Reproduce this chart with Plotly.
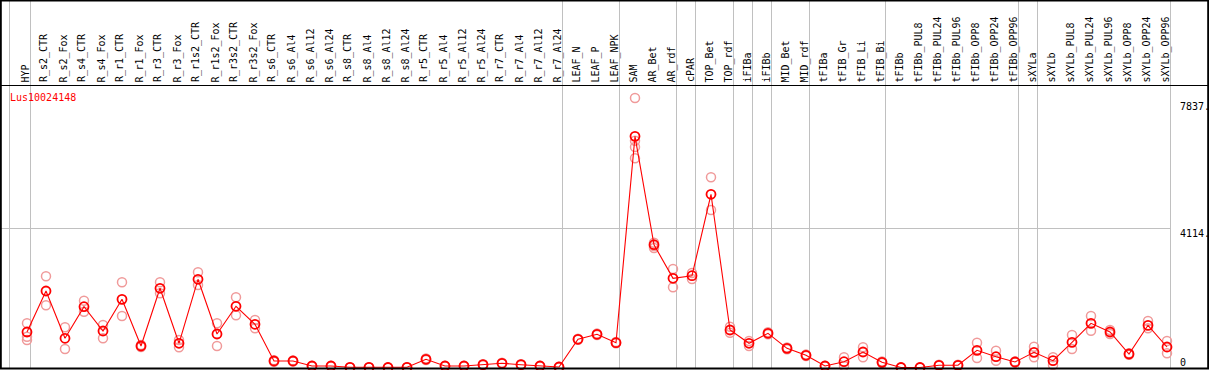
import plotly.graph_objects as go

W, H = 1209, 370

gene = "Lus10024148"

samples = ["HYP", "R_s2_CTR", "R_s2_Fox", "R_s4_CTR", "R_s4_Fox", "R_r1_CTR", "R_r1_Fox",
           "R_r3_CTR", "R_r3_Fox", "R_r1s2_CTR", "R_r1s2_Fox", "R_r3s2_CTR", "R_r3s2_Fox",
           "R_s6_CTR", "R_s6_Al4", "R_s6_Al12", "R_s6_Al24", "R_s8_CTR", "R_s8_Al4", "R_s8_Al12",
           "R_s8_Al24", "R_r5_CTR", "R_r5_Al4", "R_r5_Al12", "R_r5_Al24", "R_r7_CTR", "R_r7_Al4",
           "R_r7_Al12", "R_r7_Al24", "LEAF_N", "LEAF_P", "LEAF_NPK", "SAM", "AR_Bet", "AR_rdf",
           "cPAR", "TOP_Bet", "TOP_rdf", "iFIBa", "iFIBb", "MID_Bet", "MID_rdf", "tFIBa",
           "tFIB_Gr", "tFIB_Li", "tFIB_Bi", "tFIBb", "tFIBb_PUL8", "tFIBb_PUL24", "tFIBb_PUL96",
           "tFIBb_OPP8", "tFIBb_OPP24", "tFIBb_OPP96", "sXYLa", "sXYLb", "sXYLb_PUL8",
           "sXYLb_PUL24", "sXYLb_PUL96", "sXYLb_OPP8", "sXYLb_OPP24", "sXYLb_OPP96"]

mean_values = [1047, 2256, 861, 1793, 1076, 2011, 634, 2336, 714, 2601, 988, 1805, 1274,
               192, 192, 44, 44, 6, 6, 0, 6, 242, 44, 44, 83, 124, 83, 44, 15,
               832, 979, 731, 6818, 3621, 2631, 2707, 5108, 1106, 714, 1009, 566, 360, 44,
               171, 457, 153, 0, 0, 65, 65, 507, 318, 162, 448, 201, 743,
               1303, 1047, 398, 1244, 605]

replicates = [
    [1303, 908, 811], [2690, 1834], [1185, 546], [1970, 1646], [1253, 861], [2513, 1519],
    [664, 605], [2513, 2188], [811, 596], [2807, 2433], [1303, 634], [2070, 1539], [1401, 1156],
    [215, 170], [210, 175], [55, 35], [55, 35], [10, 2], [10, 2], [0, 0], [10, 2],
    [265, 220], [55, 35], [55, 35], [95, 70], [140, 110], [95, 70], [55, 35], [20, 10],
    [850, 815], [1000, 960], [750, 712], [7948, 6688, 6503, 6169], [3680, 3583, 3524],
    [2905, 2365], [2787, 2610], [5609, 4645], [1203, 1026], [781, 634], [1040, 980],
    [590, 540], [380, 340], [55, 35], [301, 44], [596, 301], [175, 130], [0, 0], [0, 0],
    [80, 50], [80, 50], [731, 280], [495, 201], [180, 145], [613, 301], [301, 74],
    [958, 546], [1519, 1085], [1106, 988], [420, 376], [1371, 1156], [781, 419]]

tick_values = [0, 4114, 7837]
tick_labels = ["0", "4114.", "7837."]

group_breaks = [-0.9, 0.2, 28.2, 31.2, 34.2, 35.2, 37.2, 38.2, 39.2, 41.2, 45.2, 52.2, 53.2, 60.2]

# ---- pixel geometry helpers ----
X0_PX, DX_PX = 27.0, 19.0          # pixel of first category, spacing
Y0_PX, K = 367.5, 0.033909          # pixel of value 0, pixels per unit
xr = [(0 - X0_PX) / DX_PX, (W - X0_PX) / DX_PX]
yr = [(Y0_PX - H) / K, Y0_PX / K]


def px(x):
    return x / W


def py(y):
    return 1 - y / H


def snap_x(b):
    # place a 1px line on a pixel centre
    p = round(X0_PX + DX_PX * b) - 0.5
    return (p - X0_PX) / DX_PX


idx = list(range(len(samples)))

fig = go.Figure()

rx, ry = [], []
for i, reps in enumerate(replicates):
    for v in reps:
        rx.append(i)
        ry.append(v)

fig.add_trace(go.Scatter(x=rx, y=ry, mode="markers",
                         marker=dict(symbol="circle-open", size=9, color="#f09a9a",
                                     line=dict(width=1.5, color="#f09a9a")),
                         hoverinfo="skip", showlegend=False))
fig.add_trace(go.Scatter(x=idx, y=mean_values, mode="lines+markers",
                         line=dict(color="#ff0000", width=1.1),
                         marker=dict(symbol="circle-open", size=9, color="#ff0000",
                                     line=dict(width=1.8, color="#ff0000")),
                         text=samples, showlegend=False))

shapes = []
# group separators (full height)
for b in group_breaks:
    xb = snap_x(b)
    shapes.append(dict(type="line", xref="x", yref="paper", x0=xb, x1=xb, y0=py(368), y1=1,
                       line=dict(color="#c0c0c0", width=1), layer="below"))
# horizontal grid at mid tick
shapes.append(dict(type="line", xref="paper", yref="paper", x0=0, x1=px(1171),
                   y0=py(round(Y0_PX - K * tick_values[1]) + 0.5),
                   y1=py(round(Y0_PX - K * tick_values[1]) + 0.5),
                   line=dict(color="#c0c0c0", width=1), layer="below"))
# frame
shapes.append(dict(type="line", xref="paper", yref="paper", x0=0, x1=1, y0=py(0.5), y1=py(0.5),
                   line=dict(color="black", width=2)))
shapes.append(dict(type="line", xref="paper", yref="paper", x0=0, x1=1, y0=py(85.5), y1=py(85.5),
                   line=dict(color="black", width=1.2)))
shapes.append(dict(type="line", xref="paper", yref="paper", x0=0, x1=1, y0=py(368.5), y1=py(368.5),
                   line=dict(color="black", width=2)))
shapes.append(dict(type="line", xref="paper", yref="paper", x0=px(0.8), x1=px(0.8), y0=py(369), y1=1,
                   line=dict(color="black", width=2)))
shapes.append(dict(type="line", xref="paper", yref="paper", x0=px(1208.2), x1=px(1208.2), y0=py(369), y1=1,
                   line=dict(color="black", width=2)))

ann = []
FONT = "DejaVu Sans Mono"
for i, s in enumerate(samples):
    ann.append(dict(x=i - 0.1, y=py(83.5), xref="x", yref="paper", text=s, textangle=-90,
                    showarrow=False, xanchor="center", yanchor="bottom", borderpad=0,
                    font=dict(family=FONT, size=10, color="black")))

ann.append(dict(x=px(9), y=py(97), xref="paper", yref="paper", text=gene, showarrow=False,
                xanchor="left", yanchor="middle", borderpad=0,
                font=dict(family=FONT, size=10, color="#ff0000")))

for v, t in zip(tick_values, tick_labels):
    ann.append(dict(x=px(1178.5), y=v, xref="paper", yref="y", text=t, showarrow=False,
                    xanchor="left", yanchor="middle", borderpad=0,
                    yshift=(5.5 if v == 0 else -5),
                    font=dict(family=FONT, size=10, color="black")))

fig.update_layout(width=W, height=H, autosize=False,
                  margin=dict(l=0, r=0, t=0, b=0, pad=0),
                  paper_bgcolor="white", plot_bgcolor="white",
                  xaxis=dict(range=xr, visible=False, fixedrange=True),
                  yaxis=dict(range=yr, visible=False, fixedrange=True),
                  shapes=shapes, annotations=ann, showlegend=False)

fig.write_html("out.html", config={"displayModeBar": False},
               post_script="document.body.style.margin='0px';document.body.style.overflow='hidden';")
